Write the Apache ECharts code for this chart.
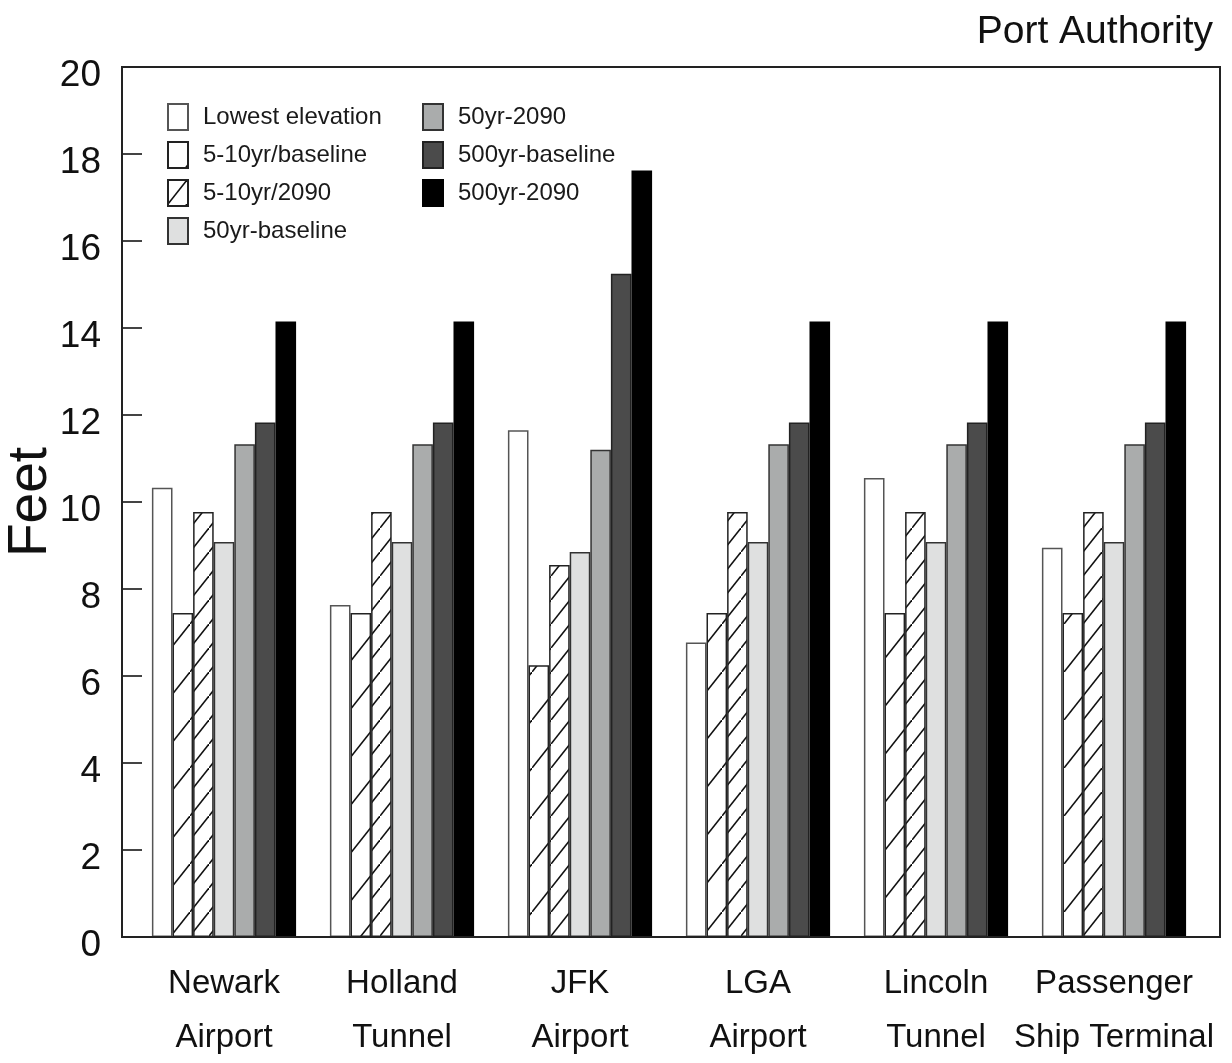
<!DOCTYPE html>
<html>
<head>
<meta charset="utf-8">
<script src="https://cdn.jsdelivr.net/npm/echarts@6/dist/echarts.min.js"></script>
<style>
html,body{margin:0;padding:0;background:#fff;}
#chart{width:1232px;height:1063px;}
</style>
</head>
<body>
<div id="chart"></div>
<script>
// ---- data ----
const categories = ['Newark\nAirport', 'Holland\nTunnel', 'JFK\nAirport', 'LGA\nAirport', 'Lincoln\nTunnel', 'Passenger\nShip Terminal'];
const seriesNames = ['Lowest elevation', '5-10yr/baseline', '5-10yr/2090', '50yr-baseline', '50yr-2090', '500yr-baseline', '500yr-2090'];
const lowestElevation = [10.33, 7.63, 11.65, 6.77, 10.55, 8.95];
const flood5to10Baseline = [7.45, 7.45, 6.25, 7.45, 7.45, 7.45];
const flood5to10In2090 = [9.77, 9.77, 8.55, 9.77, 9.77, 9.77];
const flood50Baseline = [9.08, 9.08, 8.85, 9.08, 9.08, 9.08];
const flood50In2090 = [11.33, 11.33, 11.2, 11.33, 11.33, 11.33];
const flood500Baseline = [11.83, 11.83, 15.25, 11.83, 11.83, 11.83];
const flood500In2090 = [14.15, 14.15, 17.62, 14.15, 14.15, 14.15];
const yMin = 0, yMax = 20, yStep = 2;
const yAxisTitle = 'Feet';
const cornerTitle = 'Port Authority';

// ---- styling helpers ----
function hatch(w, h, lw) {
  const c = document.createElement('canvas');
  c.width = w; c.height = h;
  const ctx = c.getContext('2d');
  ctx.fillStyle = '#ffffff';
  ctx.fillRect(0, 0, w, h);
  ctx.strokeStyle = '#111';
  ctx.lineWidth = lw;
  ctx.beginPath();
  ctx.moveTo(-w, 2 * h); ctx.lineTo(2 * w, -h);
  ctx.stroke();
  return c;
}
const sparse = hatch(38, 48, 1.6);
const dense = hatch(19, 24, 1.6);

const font = '"Liberation Sans", Arial, Helvetica, sans-serif';

const seriesData = [lowestElevation, flood5to10Baseline, flood5to10In2090, flood50Baseline, flood50In2090, flood500Baseline, flood500In2090];
const fills = ['#ffffff', {image: sparse, repeat: 'repeat'}, {image: dense, repeat: 'repeat'}, '#dfe0e0', '#aaacac', '#4b4b4b', '#000000'];
const borders = ['#555', '#222', '#222', '#333', '#333', '#222', '#000'];

const series = seriesNames.map((name, i) => ({
  name: name,
  type: 'bar',
  xAxisIndex: 0,
  yAxisIndex: 0,
  data: seriesData[i],
  barGap: '0%',
  barCategoryGap: '19%',
  itemStyle: {color: fills[i], borderColor: borders[i], borderWidth: 1.5},
  emphasis: {disabled: true},
  animation: false
}));

const legendCommon = {
  orient: 'vertical', top: 98,
  itemWidth: 20, itemHeight: 26, itemGap: 10,
  icon: 'rect',
  textStyle: {fontFamily: font, fontSize: 24, color: '#1a1a1a', padding: [0, 0, 0, 10]},
  selectedMode: false
};

const chart = echarts.init(document.getElementById('chart'), null, {renderer: 'canvas'});
chart.setOption({
  backgroundColor: '#ffffff',
  animation: false,
  title: {
    text: cornerTitle,
    right: 14, top: 8,
    textStyle: {fontFamily: font, fontSize: 39, fontWeight: 'normal', color: '#111'}
  },
  legend: [
    Object.assign({data: seriesNames.slice(0, 4), left: 162}, legendCommon),
    Object.assign({data: seriesNames.slice(4), left: 417}, legendCommon)
  ],
  grid: [
    {left: 135, right: 29, top: 67, bottom: 126, show: false, outerBoundsMode: 'none', containLabel: false},
    {left: 122, right: 12, top: 67, bottom: 126, show: true, borderColor: '#222', borderWidth: 2,
     backgroundColor: 'transparent', z: 10, outerBoundsMode: 'none', containLabel: false}
  ],
  xAxis: [
    {
      type: 'category', gridIndex: 0, data: categories,
      axisLine: {show: false}, axisTick: {show: false},
      axisLabel: {fontFamily: font, fontSize: 33, lineHeight: 54, color: '#111', margin: 20, interval: 0, hideOverlap: false}
    },
    {
      type: 'value', gridIndex: 1, min: 0, max: 1, show: false
    }
  ],
  yAxis: [
    {type: 'value', gridIndex: 0, min: yMin, max: yMax, interval: yStep, show: false},
    {
      type: 'value', gridIndex: 1, min: yMin, max: yMax, interval: yStep,
      name: yAxisTitle, nameLocation: 'middle', nameGap: 64, nameMoveOverlap: false,
      nameTextStyle: {fontFamily: font, fontSize: 55, color: '#111'},
      axisLine: {show: true, lineStyle: {color: '#222', width: 2}},
      axisTick: {show: true, inside: true, length: 20, lineStyle: {color: '#444', width: 2}},
      axisLabel: {fontFamily: font, fontSize: 37, color: '#111', margin: 21, verticalAlign: 'top', lineHeight: 17},
      splitLine: {show: false}
    }
  ],
  series: series
});
</script>
</body>
</html>
